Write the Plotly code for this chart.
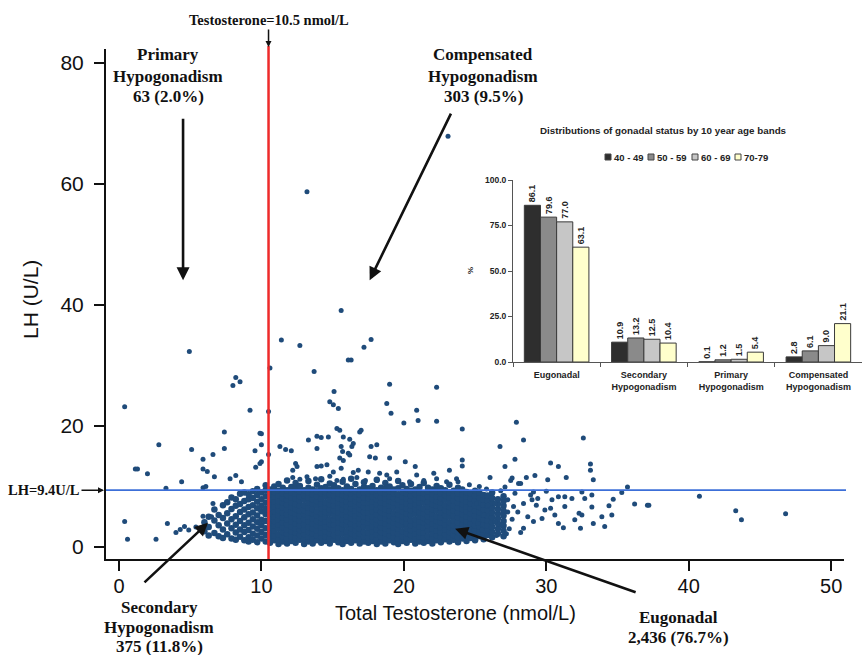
import plotly.graph_objects as go

# ---------------- main scatter data ----------------
# dense core: testosterone column -> LH values observed in that column
core_t = [6.0, 6.3, 6.7, 7.0, 7.3, 7.6, 7.9, 8.2, 8.5, 8.8, 9.1, 9.4, 9.7, 10.0, 10.3,
          10.6, 10.9, 11.2, 11.5, 11.8, 12.1, 12.4, 12.7, 13.0, 13.3, 13.6, 13.9, 14.2,
          14.5, 14.8, 15.1, 15.4, 15.7, 16.0, 16.3, 16.6, 16.9, 17.2, 17.5, 17.8, 18.1,
          18.4, 18.7, 19.0, 19.3, 19.6, 19.9, 20.2, 20.5, 20.8, 21.1, 21.4, 21.7, 22.0,
          22.3, 22.6, 22.9, 23.2, 23.5, 23.8, 24.1, 24.4, 24.7, 25.0, 25.3, 25.6, 25.9,
          26.2, 26.6, 27.0]
core_lh = [
    [2.6, 4.1],
    [3.3, 5.0, 1.9],
    [2.3, 4.4, 6.2],
    [1.8, 3.6, 5.3],
    [2.9, 4.8, 6.9, 1.5],
    [2.1, 3.9, 5.6, 7.4],
    [1.4, 3.1, 4.6, 6.3, 8.2],
    [2.4, 3.7, 5.1, 6.8, 1.2, 7.9],
    [1.7, 2.9, 4.3, 5.8, 7.1, 8.8],
    [1.1, 2.5, 3.6, 4.9, 6.2, 7.6, 9.0],
    [1.6, 2.8, 4.0, 5.4, 6.6, 7.9, 8.7, 0.9],
    [1.2, 2.2, 3.4, 4.6, 5.7, 6.9, 8.1, 9.2],
    [0.8, 1.9, 3.0, 4.1, 5.2, 6.4, 7.5, 8.6, 9.6],
    [1.4, 2.5, 3.6, 4.5, 5.9, 6.8, 7.9, 9.0],
    [0.9, 2.0, 3.1, 4.3, 5.4, 6.3, 7.3, 8.4, 9.4, 10.2],
    [0.7, 1.5, 2.3, 3.2, 3.9, 4.8, 5.5, 6.4, 7.1, 7.9, 8.7, 9.5],
    [1.1, 1.9, 2.7, 3.5, 4.3, 5.0, 5.9, 6.7, 7.5, 8.3, 9.1, 10.0],
    [0.5, 1.3, 2.1, 3.0, 3.7, 4.5, 5.3, 6.1, 6.9, 7.6, 8.5, 9.3, 10.4],
    [0.9, 1.7, 2.5, 3.3, 4.1, 4.9, 5.7, 6.5, 7.3, 8.1, 8.9, 9.8],
    [0.6, 1.4, 2.2, 2.9, 3.8, 4.6, 5.4, 6.2, 7.0, 7.8, 8.6, 9.4, 11.0],
    [1.0, 1.8, 2.6, 3.4, 4.2, 5.1, 5.8, 6.6, 7.4, 8.2, 9.0, 9.9],
    [0.7, 1.5, 2.4, 3.1, 3.9, 4.7, 5.5, 6.3, 7.1, 8.0, 8.8, 9.6, 10.6],
    [1.2, 2.0, 2.8, 3.6, 4.4, 5.2, 6.0, 6.8, 7.7, 8.4, 9.2, 10.1],
    [0.5, 1.3, 2.1, 2.9, 3.7, 4.6, 5.4, 6.1, 6.9, 7.8, 8.6, 9.4],
    [0.9, 1.7, 2.5, 3.3, 4.2, 5.0, 5.7, 6.5, 7.3, 8.2, 9.0, 9.8, 10.9],
    [0.6, 1.4, 2.3, 3.1, 3.9, 4.7, 5.6, 6.3, 7.2, 7.9, 8.7, 9.5],
    [1.1, 1.9, 2.7, 3.5, 4.3, 5.2, 5.9, 6.8, 7.6, 8.4, 9.2, 10.3],
    [0.7, 1.6, 2.4, 3.2, 4.0, 4.8, 5.6, 6.4, 7.2, 8.0, 8.9, 9.7, 11.2],
    [1.0, 1.8, 2.6, 3.4, 4.2, 5.0, 5.8, 6.7, 7.4, 8.3, 9.1, 9.9],
    [0.6, 1.4, 2.2, 3.0, 3.8, 4.6, 5.5, 6.2, 7.0, 7.9, 8.7, 9.5, 10.5],
    [1.2, 2.0, 2.9, 3.7, 4.5, 5.3, 6.1, 6.9, 7.7, 8.5, 9.3, 10.2],
    [0.8, 1.6, 2.4, 3.2, 4.1, 4.9, 5.7, 6.5, 7.3, 8.1, 8.9, 9.7],
    [0.5, 1.3, 2.2, 3.0, 3.8, 4.6, 5.4, 6.2, 7.1, 7.8, 8.6, 9.4, 10.8],
    [1.0, 1.8, 2.6, 3.5, 4.3, 5.1, 5.9, 6.7, 7.5, 8.3, 9.1, 10.0],
    [0.7, 1.5, 2.3, 3.1, 3.9, 4.8, 5.6, 6.4, 7.2, 8.0, 8.8, 9.6, 11.3],
    [1.1, 1.9, 2.8, 3.6, 4.4, 5.2, 6.0, 6.8, 7.6, 8.4, 9.2, 10.4],
    [0.6, 1.4, 2.2, 3.0, 3.9, 4.7, 5.5, 6.3, 7.1, 7.9, 8.7, 9.5],
    [0.9, 1.7, 2.5, 3.4, 4.2, 5.0, 5.8, 6.6, 7.4, 8.2, 9.0, 9.9, 10.7],
    [0.7, 1.6, 2.4, 3.2, 4.0, 4.8, 5.7, 6.5, 7.3, 8.1, 8.9, 9.7],
    [1.0, 1.8, 2.6, 3.4, 4.3, 5.1, 5.9, 6.7, 7.5, 8.4, 9.2, 10.1],
    [0.5, 1.3, 2.1, 2.9, 3.7, 4.6, 5.4, 6.2, 7.0, 7.8, 8.6, 9.4, 11.1],
    [0.9, 1.7, 2.5, 3.3, 4.1, 4.9, 5.8, 6.6, 7.4, 8.2, 9.0, 9.8],
    [0.6, 1.5, 2.3, 3.1, 3.9, 4.7, 5.5, 6.3, 7.2, 8.0, 8.8, 9.6, 10.6],
    [1.1, 1.9, 2.7, 3.5, 4.4, 5.2, 6.0, 6.8, 7.6, 8.4, 9.2, 10.0],
    [0.8, 1.6, 2.4, 3.2, 4.0, 4.8, 5.6, 6.5, 7.3, 8.1, 8.9, 9.5],
    [0.5, 1.4, 2.2, 3.0, 3.8, 4.6, 5.4, 6.2, 7.0, 7.9, 8.7, 9.7, 10.9],
    [1.0, 1.8, 2.6, 3.5, 4.3, 5.1, 5.9, 6.7, 7.5, 8.3, 9.1, 10.2],
    [0.7, 1.5, 2.3, 3.1, 3.9, 4.7, 5.5, 6.4, 7.2, 8.0, 8.8, 9.6],
    [1.2, 2.0, 2.8, 3.6, 4.4, 5.3, 6.1, 6.9, 7.7, 8.5, 9.3, 10.4],
    [0.6, 1.4, 2.2, 3.0, 3.8, 4.6, 5.5, 6.3, 7.1, 7.9, 8.7, 9.5],
    [0.9, 1.7, 2.5, 3.4, 4.2, 5.0, 5.8, 6.6, 7.4, 8.2, 9.0, 9.9],
    [0.7, 1.6, 2.4, 3.2, 4.0, 4.8, 5.6, 6.4, 7.3, 8.1, 8.9, 10.6],
    [1.0, 1.8, 2.7, 3.5, 4.3, 5.1, 5.9, 6.7, 7.5, 8.3, 9.2, 9.8],
    [0.6, 1.4, 2.2, 3.0, 3.9, 4.7, 5.5, 6.3, 7.1, 7.9, 8.7, 9.5],
    [1.1, 1.9, 2.7, 3.5, 4.3, 5.1, 6.0, 6.8, 7.6, 8.4, 9.2, 10.1],
    [0.8, 1.6, 2.4, 3.2, 4.1, 4.9, 5.7, 6.5, 7.3, 8.1, 8.9, 9.7],
    [1.3, 2.1, 2.9, 3.7, 4.5, 5.3, 6.1, 6.9, 7.8, 8.6, 9.4],
    [0.9, 1.7, 2.5, 3.3, 4.1, 5.0, 5.8, 6.6, 7.4, 8.2, 9.0, 10.3],
    [1.2, 2.0, 2.8, 3.6, 4.4, 5.2, 6.0, 6.8, 7.7, 8.5, 9.3],
    [0.8, 1.6, 2.5, 3.3, 4.1, 4.9, 5.7, 6.5, 7.3, 8.1, 8.9, 9.8],
    [1.4, 2.2, 3.0, 3.8, 4.6, 5.4, 6.3, 7.1, 7.9, 8.7, 9.5],
    [1.0, 1.8, 2.6, 3.5, 4.3, 5.1, 5.9, 6.7, 7.5, 8.3, 9.1],
    [1.5, 2.3, 3.1, 3.9, 4.7, 5.6, 6.4, 7.2, 8.0, 8.8],
    [1.1, 2.0, 2.8, 3.6, 4.4, 5.2, 6.0, 6.9, 7.7, 8.5, 9.3],
    [1.8, 2.6, 3.4, 4.2, 5.0, 5.8, 6.6, 7.4, 8.2, 9.0],
    [1.3, 2.1, 3.0, 3.8, 4.6, 5.4, 6.2, 7.0, 7.8, 8.6],
    [2.0, 2.8, 3.6, 4.4, 5.2, 6.0, 6.8, 7.7, 8.5],
    [1.6, 2.5, 3.3, 4.1, 4.9, 5.7, 6.5, 7.3, 8.1, 9.0],
    [2.2, 3.0, 3.9, 4.7, 5.5, 6.3, 7.1, 7.9],
    [1.8, 2.7, 3.5, 4.3, 5.2, 6.0, 6.8, 7.6, 8.4],
]

# scattered individual points (testosterone, LH)
outlier_points = [
    (23.1, 67.9), (13.2, 58.7), (15.6, 39.1), (4.94, 32.3), (11.4, 34.2), (12.7, 33.3),
    (17.7, 34.3), (17.2, 33.0), (16.3, 30.9), (16.1, 30.9), (10.6, 29.6), (13.7, 29.0),
    (8.2, 28.0), (8.5, 27.3), (8.0, 26.7), (15.1, 25.7), (19.0, 26.9), (22.3, 26.4),
    (14.8, 24.0), (15.05, 23.5), (15.4, 22.9), (18.8, 23.7), (19.1, 22.1), (20.9, 22.6),
    (21.0, 20.9), (20.0, 20.5), (22.3, 20.8), (0.4, 23.2), (9.2, 22.6), (10.5, 22.4),
    (15.3, 19.6), (15.5, 19.3), (16.9, 19.0), (17.0, 19.3), (7.4, 19.0), (10.0, 18.7),
    (9.9, 18.8), (13.3, 17.7), (13.9, 18.3), (14.2, 18.1), (14.7, 18.2), (2.8, 16.9),
    (11.3, 16.6), (11.7, 16.1), (12.1, 15.9), (5.1, 16.1), (7.4, 16.3), (10.0, 16.9),
    (9.55, 15.9), (6.6, 15.3), (5.9, 14.5), (5.9, 12.9), (6.2, 12.5), (6.7, 11.6),
    (1.15, 12.9), (1.3, 12.9), (2.0, 12.1), (4.4, 10.8), (3.3, 9.7), (5.9, 9.8),
    (6.1, 10.0), (7.8, 11.3), (8.2, 11.8), (8.6, 10.8), (9.6, 13.2), (9.9, 13.8),
    (10.0, 14.1), (10.5, 15.3),
    (0.4, 4.2), (0.6, 1.3), (2.6, 1.3), (3.4, 3.9), (4.3, 2.9), (4.6, 3.4), (4.9, 2.8),
    (4.0, 2.4), (5.4, 3.3), (5.9, 5.1), (6.5, 5.0), (6.6, 7.2),
    (24.1, 19.5), (15.75, 18.2), (16.2, 17.8), (16.45, 17.1), (16.35, 16.6), (13.9, 16.3),
    (15.6, 16.6), (15.7, 15.8), (16.1, 15.5), (15.5, 14.7), (15.75, 14.3), (16.2, 15.2),
    (17.7, 16.6), (18.1, 16.9), (17.6, 14.9), (18.0, 14.7), (19.0, 14.7), (20.1, 14.1),
    (12.4, 13.8), (12.5, 13.3), (12.2, 12.7), (13.9, 13.3), (14.2, 13.4), (14.6, 13.6),
    (15.6, 13.0), (15.05, 12.4), (16.45, 12.3), (16.8, 12.7), (17.5, 12.4), (18.3, 12.2),
    (18.8, 11.9), (19.5, 12.4), (20.8, 13.3), (20.9, 11.9), (22.1, 12.2), (23.2, 12.7),
    (24.1, 14.4), (24.1, 13.4),
    (13.2, 11.6), (13.8, 11.3), (14.8, 11.7), (15.3, 11.0), (15.75, 11.2), (16.7, 11.5),
    (17.3, 11.0), (18.1, 11.0), (19.0, 11.3), (19.6, 11.0), (20.4, 10.8), (21.4, 11.0),
    (22.3, 11.3), (23.0, 10.8), (23.7, 11.3), (23.8, 10.8), (12.7, 11.2), (12.2, 11.5),
    (27.9, 20.6), (28.4, 17.7), (26.75, 16.6), (32.6, 18.0), (27.8, 14.5), (27.1, 13.3),
    (30.3, 13.9), (30.85, 13.3), (33.1, 13.7), (33.1, 12.7), (33.3, 11.1), (26.05, 11.5),
    (27.6, 11.4), (27.5, 11.0), (28.6, 11.5), (29.2, 11.8), (28.05, 10.5), (28.2, 10.5),
    (30.1, 11.1), (31.4, 11.5), (27.1, 9.9), (29.1, 9.1), (32.5, 9.1), (35.3, 9.0),
    (35.7, 9.9), (36.2, 7.1), (37.1, 6.9), (37.2, 6.9),
    (34.7, 7.9), (34.4, 6.8), (34.6, 5.3), (34.1, 3.4), (33.9, 5.0), (33.2, 6.6),
    (33.3, 3.9), (32.4, 3.1), (32.0, 4.5), (32.3, 5.6), (31.8, 8.0), (31.3, 6.7),
    (31.2, 3.2), (30.85, 3.9), (30.6, 5.3), (30.4, 7.8), (29.9, 6.1), (29.7, 4.7),
    (29.3, 6.9), (29.1, 4.2), (28.7, 5.0), (28.4, 3.1), (28.4, 7.2), (28.0, 5.8),
    (27.8, 8.9), (27.3, 7.8), (27.0, 6.1), (26.9, 3.6), (26.4, 4.2), (26.2, 8.9),
    (25.9, 6.9), (25.6, 5.3), (25.5, 2.8), (25.2, 3.9), (25.1, 7.2), (31.3, 8.3),
    (30.85, 8.3), (32.7, 8.0), (33.2, 8.6), (32.5, 5.3), (30.3, 6.4), (29.4, 8.0),
    (29.0, 7.8), (27.3, 5.8), (26.4, 7.2),
    (27.4, 3.0), (27.6, 4.6), (27.7, 6.7), (28.2, 2.4), (26.8, 9.3), (25.8, 9.6),
    (24.6, 10.3), (25.3, 10.0), (26.5, 1.9), (27.2, 2.2), (28.9, 8.6), (30.0, 9.2),
    (40.75, 8.4), (43.3, 6.0), (43.7, 4.5), (46.8, 5.5),
]

x_ticks_main = [0, 10, 20, 30, 40, 50]
y_ticks_main = [0, 20, 40, 60, 80]
testosterone_cut = 10.5
lh_cut = 9.4

# ---------------- inset bar data ----------------
status_categories = ["Eugonadal", "Secondary<br>Hypogonadism",
                     "Primary<br>Hypogonadism", "Compensated<br>Hypogonadism"]
age_bands = ["40 - 49", "50 - 59", "60 - 69", "70-79"]
pct_40_49 = [86.1, 10.9, 0.1, 2.8]
pct_50_59 = [79.6, 13.2, 1.2, 6.1]
pct_60_69 = [77.0, 12.5, 1.5, 9.0]
pct_70_79 = [63.1, 10.4, 5.4, 21.1]
inset_ticks = [0, 25, 50, 75, 100]

# ---------------- geometry helpers ----------------
W, H = 862, 655
L, R, T, B = 106, 0, 49, 96
PW, PH = W - L - R, H - T - B


def px(xp):
    return (xp - L) / PW


def py(yp):
    return (H - B - yp) / PH


dot_color = "#1f4b7a"
core_x = [t for t, ys in zip(core_t, core_lh) for _ in ys]
core_y = [v for ys in core_lh for v in ys]

fig = go.Figure()
fig.add_trace(go.Scatter(
    x=core_x, y=core_y, mode="markers",
    marker=dict(size=6.5, color=dot_color, line=dict(width=0)),
    showlegend=False, xaxis="x", yaxis="y"))
fig.add_trace(go.Scatter(
    x=[p[0] for p in outlier_points], y=[p[1] for p in outlier_points], mode="markers",
    marker=dict(size=5, color=dot_color, line=dict(width=0)),
    showlegend=False, xaxis="x", yaxis="y"))

bar_colors = ["#2e2e2e", "#8a8a8a", "#c6c6c6", "#ffffcc"]
for name, vals, col in zip(age_bands, [pct_40_49, pct_50_59, pct_60_69, pct_70_79], bar_colors):
    fig.add_trace(go.Bar(
        x=status_categories, y=vals, name=name, xaxis="x2", yaxis="y2",
        marker=dict(color=col, line=dict(color="#3a3a3a", width=1)),
        text=[f"{v:.1f}" for v in vals], textposition="outside", textangle=-90,
        textfont=dict(family="Liberation Sans", size=9, color="#222", weight="bold"),
        constraintext="none", cliponaxis=False, showlegend=False))

serif = "Liberation Serif"
sans = "Liberation Sans"

annotations = []


def text_at(text, xp, yp, family, size, weight="normal", angle=0, xanchor="center",
            color="#111"):
    annotations.append(dict(text=text, x=px(xp), y=py(yp), xref="paper", yref="paper",
                            showarrow=False, xanchor=xanchor, yanchor="middle",
                            textangle=angle,
                            font=dict(family=family, size=size, color=color, weight=weight)))


def lab(lines, x, ys, size=17):
    for text, yp in zip(lines, ys):
        text_at(text, x, yp, serif, size, weight="bold")


def arrow(x, y, ax, ay, xref="x", yref="y"):
    annotations.append(dict(text="", x=x, y=y, xref=xref, yref=yref, ax=ax, ay=ay,
                            showarrow=True, arrowhead=2, arrowsize=1, arrowwidth=2.6,
                            arrowcolor="#111", standoff=0))


lab(["Primary", "Hypogonadism", "63 (2.0%)"], 168, [55, 76, 96])
lab(["Compensated", "Hypogonadism", "303 (9.5%)"], 483, [55, 76, 96])
lab(["Secondary", "Hypogonadism", "375 (11.8%)"], 159, [607, 627, 646])
lab(["Eugonadal", "2,436 (76.7%)"], 678, [617, 637])

arrow(4.5, 44.1, 0, -163)
arrow(17.6, 44.1, 82, -168)
arrow(6.25, 4.0, -65, 61)
arrow(23.6, 3.0, 182, 64)

# Testosterone cut label with arrow
annotations.append(dict(text="Testosterone=10.5 nmol/L", x=testosterone_cut, y=py(47),
                        xref="x", yref="paper", ax=0, ay=-27, showarrow=True,
                        arrowhead=2, arrowsize=0.8, arrowwidth=1.5, arrowcolor="#111",
                        standoff=0,
                        font=dict(family=serif, size=14.5, color="#111", weight="bold")))
# LH cut label with arrow
annotations.append(dict(text="LH=9.4U/L", x=px(104), y=lh_cut, xref="paper", yref="y",
                        ax=-60, ay=0, showarrow=True, arrowhead=2, arrowsize=0.8,
                        arrowwidth=1.5, arrowcolor="#111", standoff=0,
                        font=dict(family=serif, size=14.5, color="#111", weight="bold")))

# axis titles
text_at("Total Testosterone (nmol/L)", 455, 613, sans, 20)
text_at("LH (U/L)", 30, 300, sans, 21, angle=-90)

# inset title, % label and legend
text_at("Distributions of gonadal status by 10 year age bands", 663, 130, sans, 9.8,
        weight="bold", color="#222")
text_at("%", 470, 271, sans, 8, weight="bold", angle=-90, color="#222")

shapes = []
legend_x = [605, 648, 692, 735]
for name, col, lx in zip(age_bands, bar_colors, legend_x):
    shapes.append(dict(type="rect", xref="paper", yref="paper",
                       x0=px(lx), x1=px(lx + 6), y0=py(160), y1=py(154),
                       fillcolor=col, line=dict(color="#444", width=1)))
    text_at(name, lx + 7, 157, sans, 9.5, weight="bold", xanchor="left", color="#222")

# reference lines
shapes.append(dict(type="line", xref="x", yref="paper", x0=testosterone_cut, x1=testosterone_cut,
                   y0=0, y1=py(46), line=dict(color="#ee2a2a", width=2.5)))
shapes.append(dict(type="line", xref="paper", yref="y", x0=0, x1=px(846), y0=lh_cut, y1=lh_cut,
                   line=dict(color="#3c6fd8", width=1.6)))

fig.update_layout(
    width=W, height=H,
    margin=dict(l=L, r=R, t=T, b=B),
    paper_bgcolor="white", plot_bgcolor="rgba(0,0,0,0)",
    barmode="group", bargap=0.26, bargroupgap=0,
    xaxis=dict(domain=[0, px(844)], range=[-0.91, 50.9], tickvals=x_ticks_main,
               showline=True, linecolor="#111", linewidth=2, ticks="outside",
               ticklen=10, tickwidth=2, tickcolor="#111", showgrid=False, zeroline=False,
               tickfont=dict(family=sans, size=20, color="#111"), ticklabelstandoff=-2,
               anchor="y"),
    yaxis=dict(domain=[0, 1], range=[-1.98, 82.3], tickvals=y_ticks_main,
               showline=True, linecolor="#111", linewidth=2, ticks="outside",
               ticklen=10, tickwidth=2, tickcolor="#111", showgrid=False, zeroline=False,
               tickfont=dict(family=sans, size=21, color="#111"), ticklabelstandoff=6,
               anchor="x"),
    xaxis2=dict(domain=[px(513), 1.0], anchor="y2", showline=True, linecolor="#555",
                linewidth=1, ticks="outside", tickson="boundaries", ticklen=4,
                tickcolor="#555", showgrid=False, zeroline=False, fixedrange=True,
                tickfont=dict(family=sans, size=9, color="#222", weight="bold"),
                ticklabelstandoff=4),
    yaxis2=dict(domain=[py(362), py(180)], anchor="x2", range=[0, 100],
                tickvals=inset_ticks, tickformat=".1f", showline=True, linecolor="#555",
                linewidth=1, ticks="outside", ticklen=4, tickcolor="#555",
                showgrid=False, zeroline=False,
                tickfont=dict(family=sans, size=8.5, color="#222", weight="bold")),
    annotations=annotations,
    shapes=shapes,
)

fig.write_html("out.html", config={"displayModeBar": False},
               post_script="document.body.style.margin='0';")
